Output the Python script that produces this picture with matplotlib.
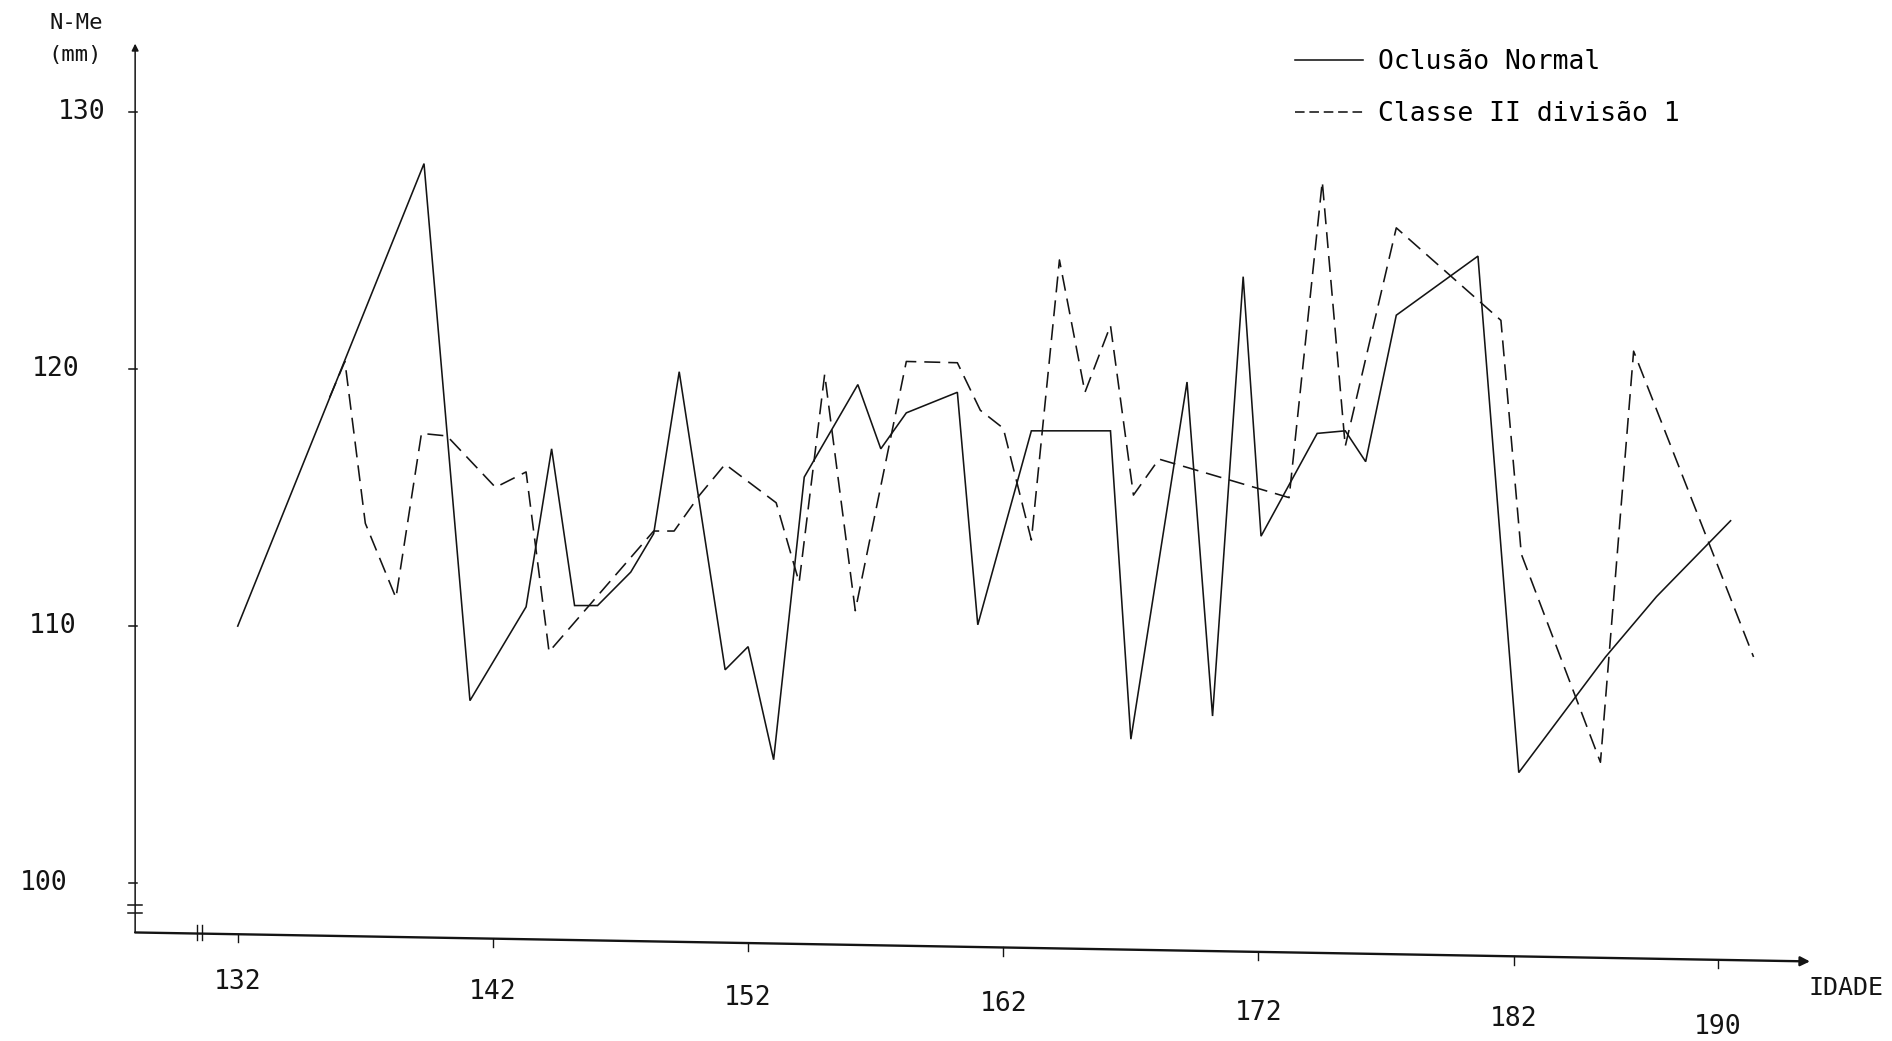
import matplotlib
matplotlib.use("Agg")
import matplotlib.pyplot as plt
from matplotlib import transforms
from matplotlib.lines import Line2D

# ---------------- data ----------------
ages_normal = [132.0, 139.3, 141.1, 143.3, 144.3, 145.2, 146.1, 147.4, 148.3, 149.3,
               151.1, 152.0, 153.0, 154.2, 156.3, 157.2, 158.2, 160.2, 161.0, 163.1,
               166.2, 167.0, 169.2, 170.2, 171.4, 172.1, 174.3, 175.4, 176.2, 177.4,
               180.6, 182.2, 185.6, 187.6, 190.5]
nme_normal = [110.0, 128.0, 107.1, 110.75, 116.9, 110.8, 110.8, 112.1, 113.6, 119.9,
              108.3, 109.2, 104.8, 115.8, 119.4, 116.9, 118.3, 119.1, 110.05, 117.6,
              117.6, 105.6, 119.5, 106.5, 123.6, 113.5, 117.5, 117.6, 116.4, 122.1,
              124.4, 104.3, 108.8, 111.15, 114.1]

ages_classe2 = [135.6, 136.2, 137.0, 138.2, 139.2, 140.2, 142.1, 143.3, 144.2, 148.3,
                149.1, 150.1, 151.1, 153.1, 154.0, 155.0, 156.2, 158.2, 160.2, 161.1,
                162.0, 163.1, 164.2, 165.2, 166.2, 167.1, 168.1, 173.2, 174.5, 175.4,
                177.4, 181.5, 182.3, 185.4, 186.7, 191.4]
nme_classe2 = [118.9, 120.3, 114.0, 111.1, 117.5, 117.4, 115.4, 116.0, 109.0, 113.7,
               113.7, 115.1, 116.3, 114.8, 111.7, 119.8, 110.6, 120.3, 120.25, 118.4,
               117.7, 113.35, 124.25, 119.1, 121.7, 115.1, 116.5, 115.0, 127.3, 117.0,
               125.5, 121.9, 112.8, 104.7, 120.7, 108.8]

x_ticks = [132, 142, 152, 162, 172, 182, 190]
y_ticks = [100, 110, 120, 130]
series_labels = ["Oclusão Normal", "Classe II divisão 1"]
y_title = "N-Me\n(mm)"
x_title = "IDADE"

# ---------------- layout ----------------
RW, RH = 1568.0, 863.0          # reference frame used for placement
def fx(sx):
    return sx / RW
def fy(sy):
    return 1.0 - sy / RH

INK = "#141414"
FONT = "DejaVu Sans Mono"
FS = 19

fig = plt.figure(figsize=(18.92, 10.41), dpi=100)
fig.patch.set_facecolor("white")
ax = fig.add_axes([fx(112), fy(800), fx(1500) - fx(112), fy(40) - fy(800)])
ax.set_xlim(127.98, 193.61)
ax.set_ylim(96.81, 132.49)
ax.axis("off")

ax.plot(ages_normal, nme_normal, color=INK, lw=1.15, solid_joinstyle="miter",
        clip_on=False)
ax.plot(ages_classe2, nme_classe2, color=INK, lw=1.15, dashes=(10, 5), clip_on=False)

# slanted x axis (axes fraction), y axis with arrows
y_left, y_right = 0.0355, 0.0039
ax.annotate("", xy=(1.0, y_right), xytext=(0.0, y_left), xycoords="axes fraction",
            arrowprops=dict(arrowstyle="-|>", lw=1.7, color=INK, mutation_scale=14,
                            shrinkA=0, shrinkB=0))
ax.annotate("", xy=(0.0, 1.005), xytext=(0.0, y_left), xycoords="axes fraction",
            arrowprops=dict(arrowstyle="-|>", lw=1.1, color=INK, mutation_scale=10,
                            shrinkA=0, shrinkB=0))

# y ticks and labels
x0, x1 = ax.get_xlim()
for v in y_ticks:
    ax.plot([x0 - 0.25, x0 + 0.08], [v, v], color=INK, lw=1.1, clip_on=False)
lab_tr = transforms.blended_transform_factory(fig.transFigure, ax.transData)
y_label_x = {130: 68, 120: 46, 110: 44, 100: 36}
for v in y_ticks:
    ax.text(fx(y_label_x[v]), v, str(v), transform=lab_tr, ha="center", va="center",
            fontsize=FS, family=FONT, color=INK)

# axis break marks
brk_tr = transforms.blended_transform_factory(ax.transAxes, fig.transFigure)
for sy in (750.6, 756.7):
    ax.plot([-0.004, 0.004], [fy(sy), fy(sy)], transform=brk_tr, color=INK, lw=1.1,
            clip_on=False)
brk_tr2 = transforms.blended_transform_factory(fig.transFigure, fig.transFigure)
for sx in (163, 167):
    ax.plot([fx(sx), fx(sx)], [fy(767), fy(779)], transform=brk_tr2, color=INK, lw=1.0,
            clip_on=False)

# x ticks on the slanted axis and their labels
tick_tr = transforms.blended_transform_factory(ax.transData, ax.transAxes)
for a in x_ticks:
    yy = y_left + (y_right - y_left) * (a - x0) / (x1 - x0)
    ax.plot([a, a], [yy, yy - 0.009], transform=tick_tr, color=INK, lw=1.0, clip_on=False)
xlab_tr = transforms.blended_transform_factory(ax.transData, fig.transFigure)
x_label_sy = [814, 822, 827, 832, 840, 845, 851]
for a, sy in zip(x_ticks, x_label_sy):
    ax.text(a, fy(sy), str(a), transform=xlab_tr, ha="center", va="center",
            fontsize=FS, family=FONT, color=INK)

# axis titles
t1, t2 = y_title.split("\n")
fig.text(fx(63), fy(19), t1, ha="center", va="center", fontsize=FS - 3, family=FONT,
         color=INK)
fig.text(fx(62), fy(46), t2, ha="center", va="center", fontsize=FS - 3, family=FONT,
         color=INK)
fig.text(fx(1530), fy(819), x_title, ha="center", va="center",
         fontsize=FS - 1, family=FONT, color=INK)

# legend (proxy handles so the dashed sample shows short dashes like "----")
h1 = Line2D([], [], color=INK, lw=1.15)
h2 = Line2D([], [], color=INK, lw=1.15, dashes=(6, 3))
ax.legend(handles=[h1, h2], labels=series_labels, loc="upper left",
          bbox_to_anchor=(fx(1073), fy(41)), bbox_transform=fig.transFigure,
          frameon=False, prop={"family": FONT, "size": FS}, handlelength=2.6,
          handletextpad=0.55, labelspacing=0.98, borderpad=0.0, borderaxespad=0.0)

fig.savefig("out.png", dpi=100, facecolor="white")
